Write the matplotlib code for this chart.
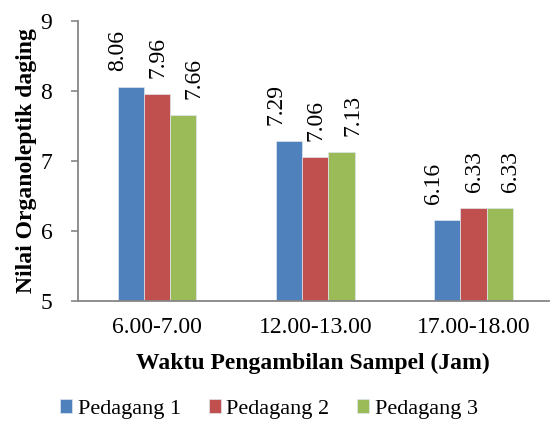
import matplotlib
matplotlib.use("Agg")
import matplotlib.pyplot as plt
import numpy as np

categories = ["6.00-7.00", "12.00-13.00", "17.00-18.00"]
series_names = ["Pedagang 1", "Pedagang 2", "Pedagang 3"]
pedagang1 = [8.06, 7.29, 6.16]
pedagang2 = [7.96, 7.06, 6.33]
pedagang3 = [7.66, 7.13, 6.33]
yticks = [5, 6, 7, 8, 9]

colors = ["#4F81BD", "#C0504D", "#9BBB59"]
label_dx = [-9.5, 0.5, 8]  # points

plt.rcParams['font.family'] = ['Liberation Serif', 'DejaVu Serif']

fig = plt.figure(figsize=(5.5, 4.24), dpi=100)
ax = fig.add_axes([0.1418, 0.2908, 0.8562, 0.659])

x = np.arange(len(categories))
w = 0.166
data = [pedagang1, pedagang2, pedagang3]
for i, (vals, name) in enumerate(zip(data, series_names)):
    xs = x + (i - 1) * w
    ax.bar(xs, [v - 5 for v in vals], bottom=5, width=w, color=colors[i],
           edgecolor='#dfe6ef', linewidth=0.5, label=name)
    for xi, v in zip(xs, vals):
        ax.annotate(f"{v:.2f}", xy=(xi, v), xytext=(label_dx[i], 11.5),
                    textcoords='offset points', rotation=90,
                    ha='center', va='bottom', fontsize=17)

ax.set_ylim(5, 9)
ax.set_xlim(-0.5, 2.477)
ax.set_yticks(yticks)
ax.set_xticks(x)
ax.set_xticklabels(categories, fontsize=17)
ax.tick_params(axis='y', labelsize=17, direction='out', length=5, width=1.2,
               color='#868686', pad=13.5)
ax.tick_params(axis='x', length=0, pad=12)

for s in ['top', 'right']:
    ax.spines[s].set_visible(False)
for s in ['left', 'bottom']:
    ax.spines[s].set_color('#868686')
    ax.spines[s].set_linewidth(1.3)

ax.set_ylabel("Nilai Organoleptik daging", fontsize=17, fontweight='bold')
ax.yaxis.set_label_coords(-0.087, 0.5)
ax.set_xlabel("Waktu Pengambilan Sampel (Jam)", fontsize=17, fontweight='bold')
ax.xaxis.set_label_coords(0.499, -0.188)

leg = fig.legend(loc='center', bbox_to_anchor=(0.489, 0.035), ncol=3, frameon=False,
                 fontsize=16, handlelength=0.55, handleheight=0.55, handletextpad=0.25,
                 columnspacing=1.25)

fig.savefig("out.png", dpi=100)
